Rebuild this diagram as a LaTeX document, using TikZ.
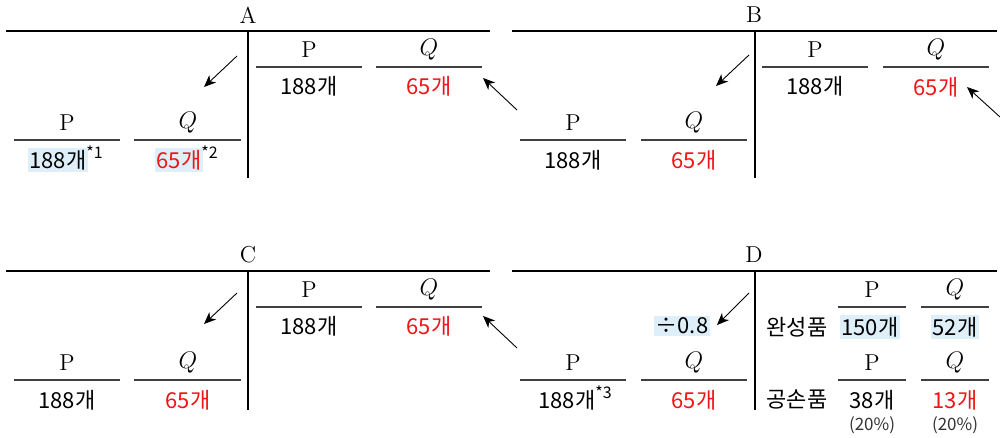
\documentclass[tikz,border=0pt]{standalone}
\usepackage{fontspec}
\newfontfamily\kr{Noto Sans CJK KR}
\usetikzlibrary{arrows.meta}
\definecolor{vred}{RGB}{240,20,20}
\definecolor{hlblue}{RGB}{222,239,250}
\tikzset{
 ttl/.style={font=\fontsize{11.5}{13}\selectfont, inner sep=0pt},
 hd/.style={font=\fontsize{11.5}{13}\selectfont, inner sep=0pt},
 val/.style={font=\kr\fontsize{11}{13}\selectfont, inner sep=0pt},
 redv/.style={val, text=vred},
 hl/.style={fill=hlblue, inner xsep=1pt, inner ysep=1pt},
 small/.style={font=\kr\fontsize{8.5}{10}\selectfont, inner sep=0pt, text=black!80},
 mainline/.style={line width=0.7pt},
 subline/.style={line width=0.6pt, black!75},
 arr/.style={line width=0.45pt, -{Stealth[length=6pt,width=5pt,inset=1.8pt]}},
}
\newcommand\sups[1]{\smash{\rlap{\raisebox{0.45em}{\fontsize{8}{9}\selectfont #1}}}}
\begin{document}
\begin{tikzpicture}[x=0.5pt,y=-0.5pt]
\useasboundingbox (0,0) rectangle (1000,438);
% ---------- Panel A ----------
\node[ttl] (A-t) at (248,15) {A};
\draw[mainline] (6,31) -- (490,31);
\draw[mainline] (248,31) -- (248,178);
\node[hd] (A-rP) at (309,50) {P};
\draw[subline] (256,67) -- (362,67);
\node[val] (A-rPv) at (309,86) {188개};
\node[hd] (A-rQ) at (429,50) {$Q$};
\draw[subline] (376,67) -- (482,67);
\node[redv] (A-rQv) at (429,86) {65개};
\node[hd] (A-lP) at (67,123) {P};
\draw[subline] (14,140) -- (120,140);
\node[val,hl] (A-lPv) at (58,160) {188개\sups{*1}};
\node[hd] (A-lQ) at (188,123) {$Q$};
\draw[subline] (134,140) -- (241,140);
\node[redv,hl] (A-lQv) at (179,160) {65개\sups{\color{black}*2}};
\coordinate (A-a1) at (237,56); \coordinate (A-a2) at (204,87);
\draw[arr] (A-a1) -- (A-a2);
% ---------- Panel B ----------
\node[ttl] (B-t) at (754,15) {B};
\draw[mainline] (512,31) -- (997,31);
\draw[mainline] (755,31) -- (755,178);
\node[hd] (B-rP) at (815,50) {P};
\draw[subline] (762,67) -- (868,67);
\node[val] (B-rPv) at (815,86) {188개};
\node[hd] (B-rQ) at (936,50) {$Q$};
\draw[subline] (883,67) -- (989,67);
\node[redv] (B-rQv) at (936,87) {65개};
\node[hd] (B-lP) at (573,123) {P};
\draw[subline] (520,140) -- (626,140);
\node[val] (B-lPv) at (573,160) {188개};
\node[hd] (B-lQ) at (694,123) {$Q$};
\draw[subline] (641,140) -- (747,140);
\node[redv] (B-lQv) at (694,160) {65개};
\coordinate (B-a1) at (749,55); \coordinate (B-a2) at (716,86);
\draw[arr] (B-a1) -- (B-a2);
\coordinate (AB-a1) at (517,110); \coordinate (AB-a2) at (483,78);
\draw[arr] (AB-a1) -- (AB-a2);
\coordinate (BR-a1) at (1000,117); \coordinate (BR-a2) at (967,87);
\draw[arr] (BR-a1) -- (BR-a2);
% ---------- Panel C ----------
\node[ttl] (C-t) at (248,255) {C};
\draw[mainline] (6,271) -- (490,271);
\draw[mainline] (248,271) -- (248,410);
\node[hd] (C-rP) at (309,290) {P};
\draw[subline] (256,307) -- (362,307);
\node[val] (C-rPv) at (309,326) {188개};
\node[hd] (C-rQ) at (429,290) {$Q$};
\draw[subline] (376,307) -- (482,307);
\node[redv] (C-rQv) at (429,326) {65개};
\node[hd] (C-lP) at (67,363) {P};
\draw[subline] (14,380) -- (120,380);
\node[val] (C-lPv) at (67,400) {188개};
\node[hd] (C-lQ) at (188,363) {$Q$};
\draw[subline] (134,380) -- (241,380);
\node[redv] (C-lQv) at (188,400) {65개};
\coordinate (C-a1) at (237,293); \coordinate (C-a2) at (204,324);
\draw[arr] (C-a1) -- (C-a2);
% ---------- Panel D ----------
\node[ttl] (D-t) at (754,255) {D};
\draw[mainline] (512,271) -- (997,271);
\draw[mainline] (755,271) -- (755,410);
\node[val,hl] (D-div) at (682,326) {÷0.8};
\node[val] (D-r1) at (797,327) {완성품};
\node[hd] (D-rP) at (872,290) {P};
\draw[subline] (838,307) -- (906,307);
\node[val,hl] (D-rPv) at (870,327) {150개};
\node[hd] (D-rQ) at (955,290) {$Q$};
\draw[subline] (921,307) -- (989,307);
\node[val,hl] (D-rQv) at (955,327) {52개};
\node[val] (D-r2) at (797,400) {공손품};
\node[hd] (D-rP2) at (872,363) {P};
\draw[subline] (838,380) -- (906,380);
\node[val] (D-rP2v) at (872,400) {38개};
\node[small] (D-rP2p) at (872,425) {(20\%)};
\node[hd] (D-rQ2) at (955,363) {$Q$};
\draw[subline] (921,380) -- (989,380);
\node[redv] (D-rQ2v) at (955,400) {13개};
\node[small] (D-rQ2p) at (955,425) {(20\%)};
\node[hd] (D-lP) at (573,363) {P};
\draw[subline] (520,380) -- (626,380);
\node[val] (D-lPv) at (567,400) {188개\sups{*3}};
\node[hd] (D-lQ) at (694,363) {$Q$};
\draw[subline] (641,380) -- (747,380);
\node[redv] (D-lQv) at (694,400) {65개};
\coordinate (D-a1) at (749,293); \coordinate (D-a2) at (717,325);
\draw[arr] (D-a1) -- (D-a2);
\coordinate (CD-a1) at (517,348); \coordinate (CD-a2) at (483,316);
\draw[arr] (CD-a1) -- (CD-a2);
\end{tikzpicture}
\end{document}
